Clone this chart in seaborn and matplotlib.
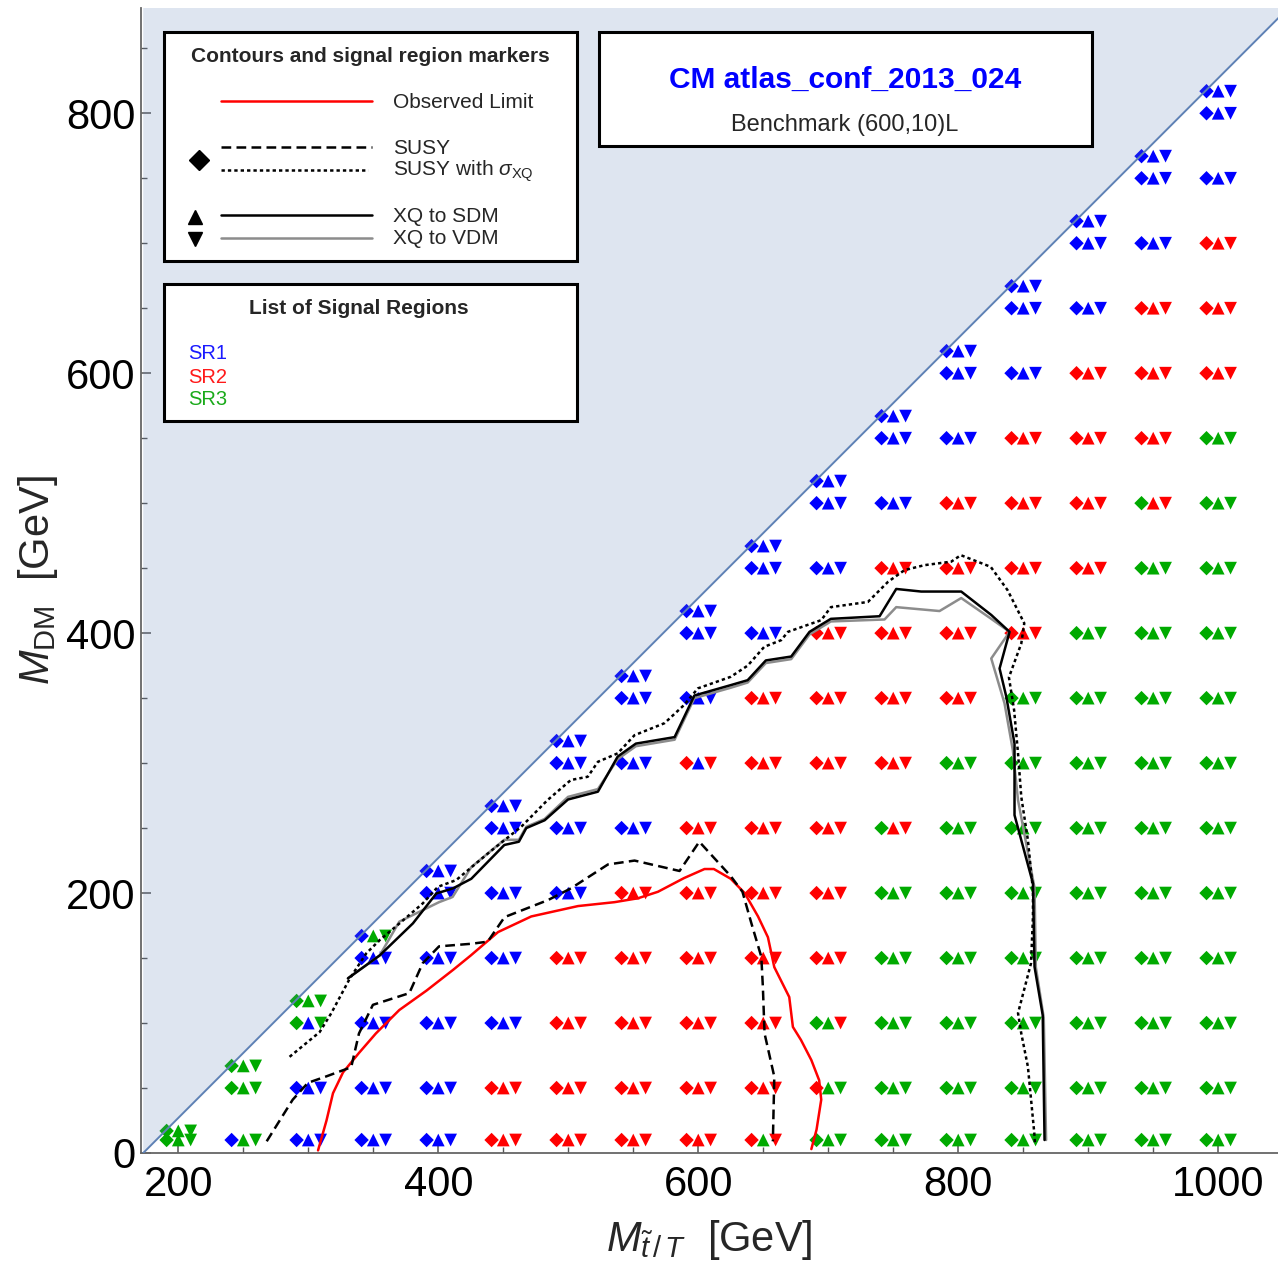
import numpy as np
import pandas as pd
import matplotlib
matplotlib.use("Agg")
import matplotlib.pyplot as plt
import seaborn as sns
from matplotlib.lines import Line2D
from matplotlib.patches import Rectangle
from matplotlib.ticker import MultipleLocator

sns.set_theme(style="white")
plt.rcParams["font.family"] = ["Liberation Sans", "DejaVu Sans"]
plt.rcParams["mathtext.fontset"] = "custom"
plt.rcParams["mathtext.rm"] = "Liberation Sans"
plt.rcParams["mathtext.it"] = "Liberation Sans:italic"
plt.rcParams["mathtext.bf"] = "Liberation Sans:bold"
plt.rcParams["lines.scale_dashes"] = False

# ---------------- data ----------------
M_T = [200, 250, 300, 350, 400, 450, 500, 550, 600, 650, 700, 750, 800, 850, 900, 950, 1000]
M_DM_GRID = [10, 50, 100, 150, 200, 250, 300, 350, 400, 450, 500, 550, 600, 650, 700, 750, 800]
M_DM_EDGE = [17, 67, 117, 167, 217, 267, 317, 367, 417, 467, 517, 567, 617, 667, 717, 767, 817]

# signal region per column (bottom -> top, last = edge point); B=SR1, R=SR2, G=SR3
SUSY_SR = ["GG", "BGG", "BBGG", "BBBBB", "BBBBBB", "RRBBBBB", "RRRRBBBB", "RRRRRBBBB",
           "RRRRRRRBBB", "RRRRRRRRBBB", "GRGRRRRRRBBB", "GGGGGGRRRRBBB", "GGGGGGGRRRRBBB",
           "GGGGGGGGRRRRBBB", "GGGGGGGGGRRRRBBB", "GGGGGGGGGGGRRRBBB", "GGGGGGGGGGGGRRRBBB"]
SDM_SR = ["GG", "GGG", "BBBG", "BBBBG", "BBBBBB", "RRBBBBB", "RRRRBBBB", "RRRRRBBBB",
          "RRRRRRBBBB", "GRRRRRRRBBB", "GGGRRRRRRBBB", "GGGGGRRRRRBBB", "GGGGGGGRRRRBBB",
          "GGGGGGGGRRRRBBB", "GGGGGGGGGRRRRBBB", "GGGGGGGGGGRRRRBBB", "GGGGGGGGGGGGRRRBBB"]
VDM_SR = ["GG", "GGG", "BBGG", "BBBBG", "BBBBBB", "RRBBBBB", "RRRRBBBB", "RRRRRBBBB",
          "RRRRRRRBBB", "RRRRRRRRBBB", "GGRRRRRRRBBB", "GGGGGRRRRRBBB", "GGGGGGGRRRRBBB",
          "GGGGGGGGRRRRBBB", "GGGGGGGGGRRRRBBB", "GGGGGGGGGGRRRRBBB", "GGGGGGGGGGGGRRRBBB"]

OBS_X = [307.5, 314, 319, 326.7, 339, 352, 370, 391, 411.5, 425, 446, 471.5, 507.5, 535.6, 553.6, 569,
         589, 604.8, 612, 625, 635.7, 646, 653.6, 658.5, 670, 672.8, 679, 687, 693, 694.6, 691, 687]
OBS_Y = [2, 25, 46, 62, 77, 92, 110, 125, 141, 152, 170, 182, 190, 193, 196, 201,
         211.5, 218.5, 218.5, 211, 200, 182, 166, 143, 120, 97, 87, 71.5, 56, 41, 18, 3]

SUSY_X = [268, 278, 288, 299.7, 314, 333, 339, 349.7, 377.7, 388, 400.6, 425.5, 438, 451, 484.4, 502,
          530.5, 551, 585.6, 600.8, 625, 634, 640.8, 648.5, 649.7, 651, 658.5, 657.4]
SUSY_Y = [9, 25, 41, 54, 59, 66, 92, 114, 123, 146, 159, 161, 162.6, 181.5, 194.6, 203.6,
          222, 225, 217, 239.5, 213, 201, 177, 151, 128, 92, 58.7, 9]

SUSYX_X = [285.6, 308.7, 317.7, 331.8, 344.6, 354.9, 370.2, 388, 399.7, 413.8, 440, 463.8, 484, 502,
           515, 522.8, 538, 551, 574, 589, 599.7, 625, 638, 650.8, 663.8, 669, 694.6, 702, 730.5,
           746, 758.7, 774, 794.6, 802, 825, 838, 850.8, 848.5, 839, 843, 846, 848.5, 853.6, 857.5,
           857.5, 856, 846, 848.5, 853.6, 858.5, 859]
SUSYX_Y = [74, 93, 107.6, 134, 153.6, 163.8, 176.7, 192, 204.8, 210, 232, 251, 271.5, 287,
           289.5, 301, 307.5, 321.5, 330.7, 344.6, 357.5, 366.4, 375, 389.5, 394.6, 401, 410, 420, 424,
           439.5, 448.5, 452.3, 455, 460, 451, 433, 407.6, 392, 366, 340.7, 307.5, 274, 240.8, 202,
           182, 146, 107.6, 92, 66.4, 15.4, 8]

SDM_X = [330.5, 354.9, 380.5, 398.5, 411.3, 425.4, 450.8, 462, 467.7, 481.8, 499.8, 522.8, 538, 552,
         581.8, 597, 625, 638, 652, 671.5, 685.6, 702, 739.5, 752.3, 771.5, 802.3, 825.4, 839.5,
         831.8, 837, 843.3, 843.3, 843.3, 857.5, 858.7, 865, 866.4]
SDM_Y = [134.4, 152, 176.7, 199.7, 203.6, 211, 237, 239.5, 250, 256, 272, 278, 305, 315,
         320, 352, 360, 363.8, 379, 382, 401, 411, 413, 434, 432, 432, 414, 401,
         372.8, 351, 315, 274, 260, 207.4, 143.3, 106, 10]

VDM_X = [330.5, 354.9, 370, 400.6, 411, 425.4, 450.8, 462, 467.7, 481.8, 499.8, 522.8, 538, 552,
         581.8, 597, 625, 638, 652, 671.5, 685.6, 702, 743.3, 752.3, 785.6, 802.3, 825.4, 839.5,
         825.4, 835.6, 842, 846, 858.7, 859.7, 865.8, 867.6]
VDM_Y = [134.4, 152, 178, 193, 197, 220, 241, 241, 251, 257, 274, 280, 303, 313,
         318, 350, 358, 362, 377, 380, 399, 409, 410.5, 420, 417, 427, 411, 401,
         380.5, 346, 310, 271.5, 204, 143, 104, 10]

BOUND_X = [173, 1060]
BOUND_Y = [0, 887]

SR_NAMES = {"B": "SR1", "R": "SR2", "G": "SR3"}
PALETTE = {"SR1": "#0000ff", "SR2": "#ff0000", "SR3": "#00aa00"}

# ---------------- figure ----------------
W, H = 1278, 1265
fig = plt.figure(figsize=(W / 100, H / 100), dpi=100)
ax = fig.add_axes([141 / W, 1 - 1153 / H, (1278 - 141) / W, (1153 - 8) / H])
ax.set_facecolor("white")

records = []
for kind, codes in (("susy", SUSY_SR), ("sdm", SDM_SR), ("vdm", VDM_SR)):
    for i, mt in enumerate(M_T):
        ys = [y for y in M_DM_GRID if y < M_DM_EDGE[i]] + [M_DM_EDGE[i]]
        assert len(ys) == len(codes[i]), (kind, mt)
        for y, c in zip(ys, codes[i]):
            records.append({"kind": kind, "mt": mt, "mdm": y, "sr": SR_NAMES[c]})
df = pd.DataFrame(records)

OFFS = {"susy": -9.0, "sdm": 0.0, "vdm": 9.5}
MARK = {"susy": "D", "sdm": "^", "vdm": "v"}
SIZE = {"susy": 54, "sdm": 84, "vdm": 84}
for kind in ("susy", "sdm", "vdm"):
    sub = df[df.kind == kind].copy()
    sub["xp"] = sub["mt"] + OFFS[kind]
    sns.scatterplot(data=sub, x="xp", y="mdm", hue="sr", palette=PALETTE, marker=MARK[kind],
                    s=SIZE[kind], linewidth=0, legend=False, ax=ax, zorder=2)

# kinematically forbidden region
bx = np.array(BOUND_X, dtype=float)
by = np.array(BOUND_Y, dtype=float)
edge_col = (0.368417, 0.506779, 0.709798)
ax.fill_between(bx, by, 2000, color=edge_col, alpha=0.2, linewidth=0, zorder=3)
sns.lineplot(x=bx, y=by, color=edge_col, lw=1.4, ax=ax, zorder=3.5)

lw = 1.8
sns.lineplot(x=OBS_X, y=OBS_Y, sort=False, estimator=None, color="red", lw=lw, ax=ax, zorder=5)
sns.lineplot(x=SUSY_X, y=SUSY_Y, sort=False, estimator=None, color="black", lw=lw,
             linestyle=(0, (7, 3.8)), ax=ax, zorder=5)
sns.lineplot(x=SUSYX_X, y=SUSYX_Y, sort=False, estimator=None, color="black", lw=lw,
             linestyle=(0, (2.4, 2.2)), ax=ax, zorder=5)
sns.lineplot(x=VDM_X, y=VDM_Y, sort=False, estimator=None, color="#8c8c8c", lw=lw, ax=ax, zorder=4)
sns.lineplot(x=SDM_X, y=SDM_Y, sort=False, estimator=None, color="black", lw=lw, ax=ax, zorder=4.5)

ax.set_xlim(171.3, 1046)
ax.set_ylim(0, 881)
ax.set_xticks([200, 400, 600, 800, 1000])
ax.set_yticks([0, 200, 400, 600, 800])
ax.xaxis.set_minor_locator(MultipleLocator(50))
ax.yaxis.set_minor_locator(MultipleLocator(50))
ax.tick_params(which="major", direction="in", length=7, width=1.1, color="#555555",
               labelsize=30, labelcolor="black", bottom=True, left=True)
ax.tick_params(axis="x", which="major", pad=9)
ax.tick_params(axis="y", which="major", pad=4)
ax.tick_params(which="minor", direction="in", length=4, width=1.0, color="#555555",
               bottom=True, left=True)
for s in ("top", "right"):
    ax.spines[s].set_visible(False)
for s in ("left", "bottom"):
    ax.spines[s].set_color("#666666")
    ax.spines[s].set_linewidth(1.3)
ax.set_xlabel(r"$M_{\tilde{t}\,/\,T}$  [GeV]", fontsize=30, labelpad=9)
ax.set_ylabel(r"$M_{\mathrm{DM}}$  [GeV]", fontsize=30, labelpad=4)

# ---------------- legend boxes (figure pixel coords) ----------------
def fx(px):
    return px / W


def fy(py):
    return 1 - py / H


def box(x0, y0, x1, y1):
    fig.add_artist(Rectangle((fx(x0), fy(y1)), fx(x1) - fx(x0), fy(y0) - fy(y1),
                             transform=fig.transFigure, facecolor="white",
                             edgecolor="black", lw=2.2, zorder=10))


def ftext(px, py, s, **kw):
    fig.text(fx(px), fy(py), s, va="center", zorder=11, **kw)


def fline(x0, x1, py, **kw):
    fig.add_artist(Line2D([fx(x0), fx(x1)], [fy(py), fy(py)], transform=fig.transFigure,
                          zorder=11, **kw))


def fmark(px, py, **kw):
    fig.add_artist(Line2D([fx(px)], [fy(py)], transform=fig.transFigure, lw=0, zorder=11, **kw))


box(164, 32, 577, 261)
ftext(370, 56, "Contours and signal region markers", ha="center", fontsize=15, fontweight="bold")
fline(221, 372, 101, color="red", lw=lw)
ftext(393, 102, "Observed Limit", ha="left", fontsize=15)
fline(221, 372, 147, color="black", lw=lw, linestyle=(0, (7, 3.8)))
ftext(393, 148, "SUSY", ha="left", fontsize=15)
fline(221, 368, 169.5, color="black", lw=lw, linestyle=(0, (2.4, 2.2)))
ftext(393, 171, r"SUSY with $\sigma_{\mathrm{XQ}}$", ha="left", fontsize=15)
fmark(198.5, 160, marker="D", markersize=10, color="black")
fline(221, 372, 215, color="black", lw=lw)
ftext(393, 216, "XQ to SDM", ha="left", fontsize=15)
fmark(195, 216.5, marker="^", markersize=9.5, color="black")
fline(221, 372, 238, color="#8c8c8c", lw=lw)
ftext(393, 239, "XQ to VDM", ha="left", fontsize=15)
fmark(195, 238.5, marker="v", markersize=9.5, color="black")

box(164, 284, 577, 421)
ftext(359, 308, "List of Signal Regions", ha="center", fontsize=15, fontweight="bold")
ftext(188, 354, "SR1", ha="left", fontsize=14.5, color="#1a1aff")
ftext(188, 377, "SR2", ha="left", fontsize=14.5, color="#ff1a1a")
ftext(188, 400, "SR3", ha="left", fontsize=14.5, color="#1aaa1a")

box(599, 32, 1092, 146)
ftext(845, 80, "CM atlas_conf_2013_024", ha="center", fontsize=21.5, fontweight="bold",
      color="#0000ff")
ftext(845, 124.5, "Benchmark (600,10)L", ha="center", fontsize=17)

fig.savefig("out.png", dpi=100)
